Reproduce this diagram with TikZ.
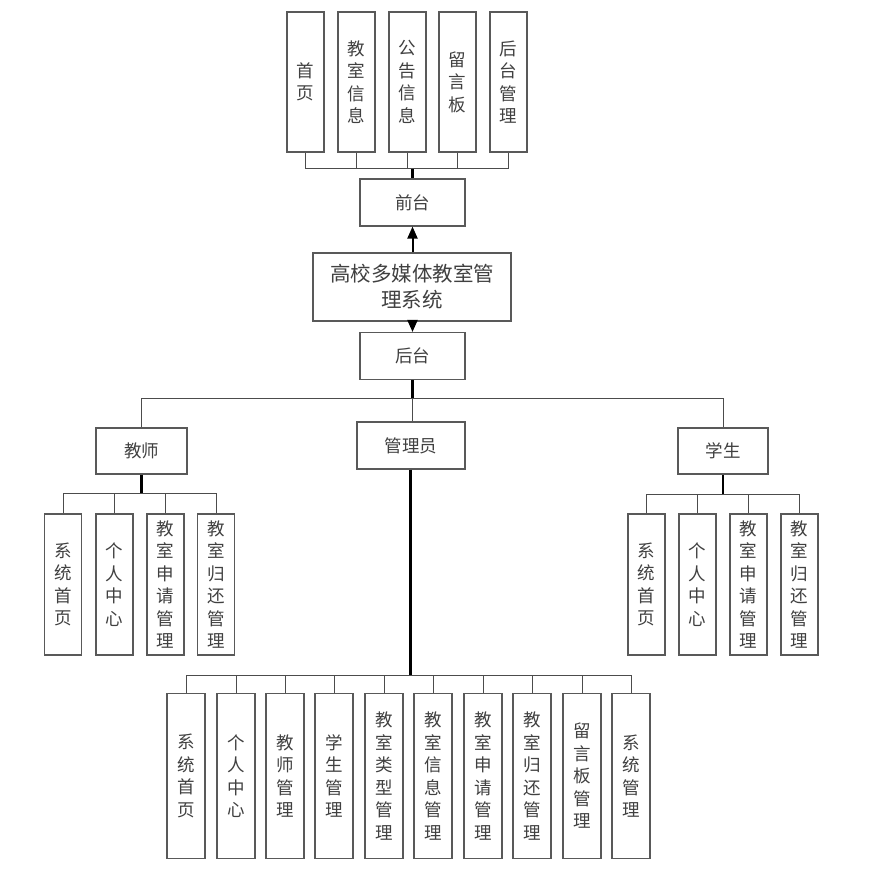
\documentclass[tikz,border=0pt]{standalone}
\usepackage{fontspec}
\setmainfont{Noto Sans CJK SC}
\usetikzlibrary{arrows.meta}
\tikzset{
  box/.style={draw=black!65, line width=1.1pt, fill=white, inner sep=0pt, align=center,
    text=black!75, font=\fontsize{17.5}{22.5}\selectfont},
  vbox/.style={box, minimum width=37pt, minimum height=140pt},
  hbox/.style={box, minimum height=47pt},
  bus/.style={draw=black!70, line width=1pt},
  trunk/.style={draw=black, line width=2.2pt},
  arr/.style={draw=black, line width=2pt, -{Triangle[width=10pt,length=12pt]}}
}
\begin{document}
\begin{tikzpicture}[x=1pt,y=-1pt]
\useasboundingbox[fill=white] (0,0) rectangle (890,893);
% top (front) modules
\node[vbox] (t1) at (305.5,82) {首\\页};
\node[vbox] (t2) at (356.5,82) {教\\室\\信\\息};
\node[vbox] (t3) at (407.5,82) {公\\告\\信\\息};
\node[vbox] (t4) at (457.5,82) {留\\言\\板};
\node[vbox] (t5) at (508.5,82) {后\\台\\管\\理};
\node[hbox, minimum width=105pt] (qt) at (412.5,202.5) {前台};
\node[box, minimum width=198pt, minimum height=68pt, font=\fontsize{20.5}{26}\selectfont] (main) at (412,287) {高校多媒体教室管\\理系统};
\node[hbox, minimum width=105pt] (ht) at (412.5,356) {后台};
\node[hbox, minimum width=108pt] (gly) at (411,445.5) {管理员};
\node[box, minimum width=91pt, minimum height=46pt] (js) at (141.5,451) {教师};
\node[box, minimum width=90pt, minimum height=46pt] (xs) at (723,451) {学生};
% teacher children
\node[vbox, minimum height=141pt] (a1) at (63,584.5) {系\\统\\首\\页};
\node[vbox, minimum height=141pt] (a2) at (114.5,584.5) {个\\人\\中\\心};
\node[vbox, minimum height=141pt] (a3) at (165.5,584.5) {教\\室\\申\\请\\管\\理};
\node[vbox, minimum height=141pt] (a4) at (216,584.5) {教\\室\\归\\还\\管\\理};
% student children
\node[vbox, minimum height=141pt] (b1) at (646.5,584.5) {系\\统\\首\\页};
\node[vbox, minimum height=141pt] (b2) at (697.5,584.5) {个\\人\\中\\心};
\node[vbox, minimum height=141pt] (b3) at (748.5,584.5) {教\\室\\申\\请\\管\\理};
\node[vbox, minimum height=141pt] (b4) at (799.5,584.5) {教\\室\\归\\还\\管\\理};
% admin children
\node[vbox, minimum width=38pt, minimum height=165pt] (c1) at (186,776) {系\\统\\首\\页};
\node[vbox, minimum width=38pt, minimum height=165pt] (c2) at (236,776) {个\\人\\中\\心};
\node[vbox, minimum width=38pt, minimum height=165pt] (c3) at (285,776) {教\\师\\管\\理};
\node[vbox, minimum width=38pt, minimum height=165pt] (c4) at (334,776) {学\\生\\管\\理};
\node[vbox, minimum width=38pt, minimum height=165pt] (c5) at (384,776) {教\\室\\类\\型\\管\\理};
\node[vbox, minimum width=38pt, minimum height=165pt] (c6) at (433,776) {教\\室\\信\\息\\管\\理};
\node[vbox, minimum width=38pt, minimum height=165pt] (c7) at (483,776) {教\\室\\申\\请\\管\\理};
\node[vbox, minimum width=38pt, minimum height=165pt] (c8) at (532,776) {教\\室\\归\\还\\管\\理};
\node[vbox, minimum width=38pt, minimum height=165pt] (c9) at (582,776) {留\\言\\板\\管\\理};
\node[vbox, minimum width=38pt, minimum height=165pt] (c10) at (631,776) {系\\统\\管\\理};
% bus coordinates
\coordinate (tb) at (412.5,169);
\coordinate (hb) at (412.5,398);
\coordinate (ab) at (141.5,493.5);
\coordinate (bb) at (723,494);
\coordinate (cb) at (410.5,675);
% front connectors
\draw[bus] (t1.south) -- (t1.south|-tb) -- (t5.south|-tb) -- (t5.south);
\foreach \n in {t2,t3,t4} \draw[bus] (\n.south) -- (\n.south|-tb);
\draw[trunk] (tb) -- (qt.north);
% arrows
\draw[arr] (main.north-|qt.south) -- (qt.south);
\draw[arr] (main.south-|ht.north) -- (ht.north);
% back connectors
\draw[trunk] (ht.south) -- (hb);
\draw[bus] (js.north) -- (js.north|-hb) -- (xs.north|-hb) -- (xs.north);
\draw[bus] (hb) -- (gly.north-|hb);
% teacher
\draw[trunk] (js.south) -- (ab);
\draw[bus] (a1.north) -- (a1.north|-ab) -- (a4.north|-ab) -- (a4.north);
\foreach \n in {a2,a3} \draw[bus] (\n.north) -- (\n.north|-ab);
% student
\draw[trunk] (xs.south) -- (bb);
\draw[bus] (b1.north) -- (b1.north|-bb) -- (b4.north|-bb) -- (b4.north);
\foreach \n in {b2,b3} \draw[bus] (\n.north) -- (\n.north|-bb);
% admin
\draw[trunk] (gly.south-|cb) -- (cb);
\draw[bus] (c1.north) -- (c1.north|-cb) -- (c10.north|-cb) -- (c10.north);
\foreach \n in {c2,c3,c4,c5,c6,c7,c8,c9} \draw[bus] (\n.north) -- (\n.north|-cb);
\end{tikzpicture}
\end{document}
